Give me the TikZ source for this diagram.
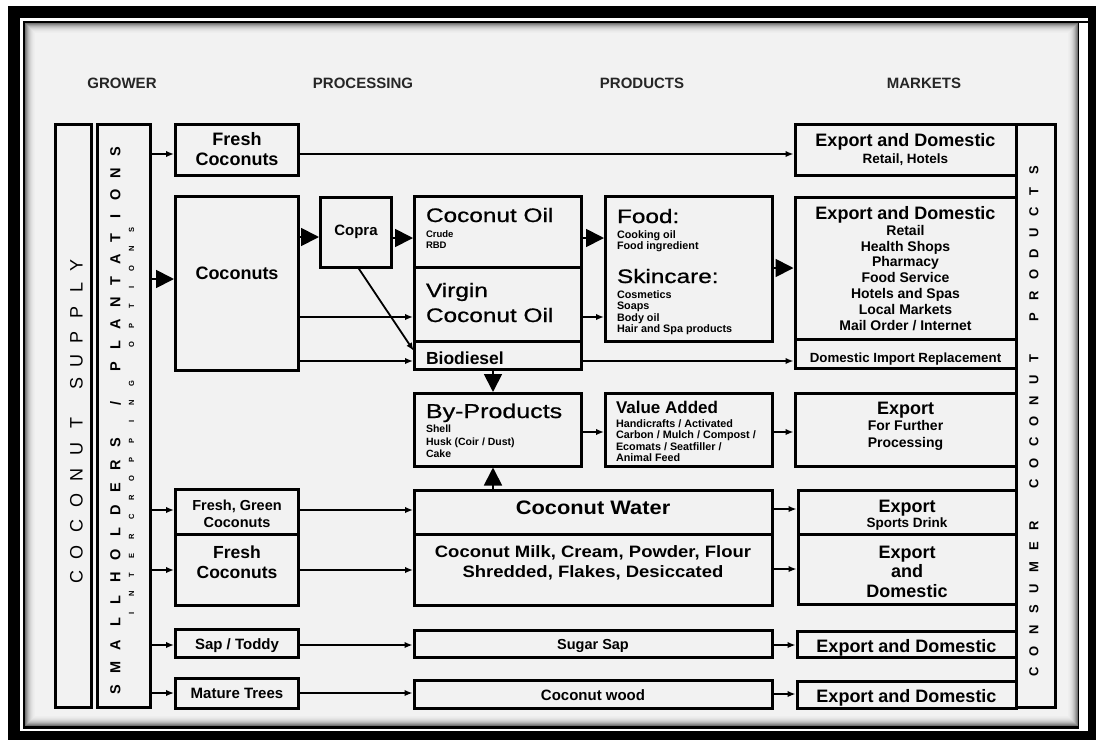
\documentclass[tikz,border=0pt]{standalone}
\usepackage{fontspec}
\setmainfont{Liberation Sans}
\newfontfamily\wideR[FakeStretch=1.25,FakeBold=0.8]{Liberation Sans}
\newfontfamily\wideB[FakeStretch=1.12]{Liberation Sans}
\usetikzlibrary{arrows.meta}
\newcommand\fsz[1]{\fontsize{#1}{#1}\selectfont}
\newcommand\bx[5]{\node[box,minimum width={#3-#1},minimum height={#4-#2}] (#5) at (#1,#2) {};}
\begin{document}
\begin{tikzpicture}[x=1pt,y=-1pt,
 box/.style={draw,line width=3pt,inner sep=0pt,outer sep=0pt,anchor=north west},
 t/.style={inner sep=0pt,outer sep=0pt},
 arr/.style={line width=1.8pt,-{Latex[length=8pt,width=6.5pt]},shorten >=1.5pt,shorten <=1.5pt},
 big/.style={line width=1.8pt,-{Triangle[length=18pt,width=18pt]},shorten >=1.5pt,shorten <=1.5pt},
 hd/.style={t,font=\fsz{15}\bfseries,anchor=base,text=black!85},
 cb/.style={t,anchor=base},
 lw/.style={t,anchor=base west},
 vA/.style={t,rotate=90,font=\fsz{18}},
 vB/.style={t,rotate=90,font=\fsz{14.5}\bfseries},
 vC/.style={t,rotate=90,font=\fsz{7.5}\bfseries},
 vD/.style={t,rotate=90,font=\fsz{13}\bfseries}]
\useasboundingbox (0,0) rectangle (1096,740);
% frame
\fill[white] (0,0) rectangle (1096,740);
\fill[black] (8,6) rectangle (1096,740);
\fill[white] (20,18) rectangle (1088,731);
\fill[black] (22.5,20.5) rectangle (1088,23);
\fill[black] (22.5,20.5) rectangle (1079,728.5);
\foreach \i/\c in {0/55,1/45,2/36,3/28,4/22,5/17,6/13,7/10,8/8,9/6.5}
  \fill[black!\c] ({25+\i},{23+\i}) rectangle ({1078-\i},{726-\i});
\fill[black!5] (35,33) rectangle (1068,716);
% headings
\node[hd] (hgrow) at (122,88.4) {GROWER};
\node[hd] (hproc) at (363,88.4) {PROCESSING};
\node[hd] (hprod) at (642,88.4) {PRODUCTS};
\node[hd] (hmark) at (924,88.4) {MARKETS};
% boxes
\bx{55}{124.5}{91.5}{707.5}{cs}
\bx{97}{124.5}{150}{707.5}{sh}
\bx{175.5}{124.5}{298.5}{175}{fc1}
\bx{175.5}{196.5}{298.5}{370}{coc}
\bx{320.5}{197}{391.5}{267.5}{copra}
\bx{414.5}{196.5}{581}{267.5}{coil}
\bx{414.5}{267.5}{581}{341.5}{vco}
\bx{414.5}{341.5}{581}{369}{bio}
\bx{414.5}{393.5}{581}{466}{byp}
\bx{605.5}{196.5}{772}{341}{food}
\bx{605.5}{393.5}{772}{466}{va}
\bx{414.5}{490}{772}{534.5}{cw}
\bx{414.5}{534.5}{772}{605}{milk}
\bx{414}{630}{772}{657}{sugar}
\bx{414}{680}{772}{708}{wood}
\bx{175.5}{489}{298.5}{534.5}{fgc}
\bx{175.5}{534.5}{298.5}{605}{fc2}
\bx{175.5}{629.5}{298.5}{657}{sap}
\bx{175.5}{678.5}{298.5}{708}{mature}
\bx{1016}{124.5}{1055}{707.5}{cp}
\bx{795}{124.5}{1016}{175}{ma}
\bx{795}{197.5}{1016}{339.5}{mb}
\bx{795}{339.5}{1016}{368}{mc}
\bx{795}{393.5}{1016}{466}{md}
\bx{798}{490}{1016}{534.5}{me}
\bx{798}{534.5}{1016}{604.5}{mf}
\bx{797}{631}{1016}{657}{mg}
\bx{797}{681}{1016}{708}{mh}
% vertical texts
\foreach \ch/\yy [count=\i] in {C/577,O/552,C/526,O/500,N/475,U/449,T/423,S/383,U/361,P/337,P/312,L/287,Y/265}
  \node[vA] (csl\i) at (76.5,\yy) {\ch};
\foreach \ch [count=\i from 0] in {S,M,A,L,L,H,O,L,D,E,R,S}
  \node[vB] (sha\i) at (115.5,{690-22.5*\i}) {\ch};
\node[vB] (shslash) at (115.5,403) {/};
\foreach \ch [count=\i from 0] in {P,L,A,N,T,A,T,I,O,N,S}
  \node[vB] (shb\i) at (115.5,{367-21.5*\i}) {\ch};
\foreach \ch [count=\i from 0] in {I,N,T,E,R,C,R,O,P,P,I,N,G}
  \node[vC] (ica\i) at (131.5,{613-19.15*\i}) {\ch};
\foreach \ch [count=\i from 14] in {O,P,T,I,O,N,S}
  \node[vC] (icb\i) at (131.5,{613-19.15*\i}) {\ch};
\foreach \ch [count=\i from 0] in {C,O,N,S,U,M,E,R}
  \node[vD] (cpa\i) at (1034,{672-20.9*\i}) {\ch};
\foreach \ch [count=\i from 9] in {C,O,C,O,N,U,T}
  \node[vD] (cpb\i) at (1034,{672-20.9*\i}) {\ch};
\foreach \ch [count=\i from 17] in {P,R,O,D,U,C,T,S}
  \node[vD] (cpc\i) at (1034,{672-20.9*\i}) {\ch};
% grower column texts
\node[cb,font=\fsz{18}\bfseries] (tfc1a) at (237,145.7) {Fresh};
\node[cb,font=\fsz{18}\bfseries] (tfc1b) at (237,165.7) {Coconuts};
\node[cb,font=\fsz{18}\bfseries] (tcoc) at (237,279) {Coconuts};
\node[cb,font=\fsz{14.5}\bfseries] (tfgca) at (237,510.5) {Fresh, Green};
\node[cb,font=\fsz{14.5}\bfseries] (tfgcb) at (237,527) {Coconuts};
\node[cb,font=\fsz{17.5}\bfseries] (tfc2a) at (237,558.5) {Fresh};
\node[cb,font=\fsz{17.5}\bfseries] (tfc2b) at (237,578) {Coconuts};
\node[cb,font=\fsz{15}\bfseries] (tsap) at (237,649) {Sap / Toddy};
\node[cb,font=\fsz{15}\bfseries] (tmat) at (237,698.5) {Mature Trees};
\node[cb,font=\fsz{15}\bfseries] (tcopra) at (356,235) {Copra};
% oil column
\node[lw,font=\wideR\fsz{19.5}] (tcoil) at (426,222) {Coconut Oil};
\node[lw,font=\fsz{9.5}\bfseries] (tcrude) at (426,237.5) {Crude};
\node[lw,font=\fsz{9.5}\bfseries] (trbd) at (426,248.5) {RBD};
\node[lw,font=\wideR\fsz{19.5}] (tvcoa) at (426,297) {Virgin};
\node[lw,font=\wideR\fsz{19.5}] (tvcob) at (426,322) {Coconut Oil};
\node[lw,font=\fsz{17.5}\bfseries] (tbio) at (426,364) {Biodiesel};
\node[lw,font=\wideR\fsz{20}] (tbyp) at (426,418) {By-Products};
\node[lw,font=\fsz{10.5}\bfseries] (tshell) at (426,432.5) {Shell};
\node[lw,font=\fsz{10.5}\bfseries] (thusk) at (426,445.5) {Husk (Coir / Dust)};
\node[lw,font=\fsz{10.5}\bfseries] (tcake) at (426,457.5) {Cake};
% products column
\node[lw,font=\wideR\fsz{19.5}] (tfood) at (617,223) {Food:};
\node[lw,font=\fsz{10.8}\bfseries] (tcook) at (617,238) {Cooking oil};
\node[lw,font=\fsz{10.8}\bfseries] (tingr) at (617,249) {Food ingredient};
\node[lw,font=\wideR\fsz{19.5}] (tskin) at (617,283) {Skincare:};
\node[lw,font=\fsz{10.8}\bfseries] (tcosm) at (617,298) {Cosmetics};
\node[lw,font=\fsz{10.8}\bfseries] (tsoap) at (617,309.5) {Soaps};
\node[lw,font=\fsz{10.8}\bfseries] (tbody) at (617,321) {Body oil};
\node[lw,font=\fsz{10.8}\bfseries] (thair) at (617,332.5) {Hair and Spa products};
\node[lw,font=\fsz{17}\bfseries] (tva) at (616,413.5) {Value Added};
\node[lw,font=\fsz{10.8}\bfseries] (tvaa) at (616,427) {Handicrafts / Activated};
\node[lw,font=\fsz{10.8}\bfseries] (tvab) at (616,438.5) {Carbon / Mulch / Compost /};
\node[lw,font=\fsz{10.8}\bfseries] (tvac) at (616,450) {Ecomats / Seatfiller /};
\node[lw,font=\fsz{10.8}\bfseries] (tvad) at (616,461.5) {Animal Feed};
% wide middle boxes
\node[cb,font=\wideB\fsz{19.5}\bfseries] (tcw) at (593,514) {Coconut Water};
\node[cb,font=\wideB\fsz{16.5}\bfseries] (tmilka) at (593,557.5) {Coconut Milk, Cream, Powder, Flour};
\node[cb,font=\wideB\fsz{16.5}\bfseries] (tmilkb) at (593,577) {Shredded, Flakes, Desiccated};
\node[cb,font=\fsz{14.5}\bfseries] (tsugar) at (593,649.5) {Sugar Sap};
\node[cb,font=\fsz{15}\bfseries] (twood) at (593,700) {Coconut wood};
% markets
\node[cb,font=\fsz{18}\bfseries] (tmaa) at (905.5,146.5) {Export and Domestic};
\node[cb,font=\fsz{13.5}\bfseries] (tmab) at (905.5,163.5) {Retail, Hotels};
\node[cb,font=\fsz{18}\bfseries] (tmba) at (905.5,219.5) {Export and Domestic};
\foreach \s/\yy [count=\i] in {Retail/235,Health Shops/251,Pharmacy/266.8,Food Service/282.6,Hotels and Spas/298.4,Local Markets/314.2}
  \node[cb,font=\fsz{14}\bfseries] (tmbl\i) at (905.5,\yy) {\s};
\node[cb,font=\fsz{14}\bfseries] (tmbl7) at (905.5,330) {Mail Order / Internet};
\node[cb,font=\fsz{13.3}\bfseries] (tmc) at (905.5,362) {Domestic Import Replacement};
\node[cb,font=\fsz{18}\bfseries] (tmda) at (905.5,414.5) {Export};
\node[cb,font=\fsz{14}\bfseries] (tmdb) at (905.5,430) {For Further};
\node[cb,font=\fsz{14}\bfseries] (tmdc) at (905.5,447) {Processing};
\node[cb,font=\fsz{18}\bfseries] (tmea) at (907,512.5) {Export};
\node[cb,font=\fsz{13.5}\bfseries] (tmeb) at (907,527.5) {Sports Drink};
\node[cb,font=\fsz{18}\bfseries] (tmfa) at (907,558.5) {Export};
\node[cb,font=\fsz{18}\bfseries] (tmfb) at (907,577.5) {and};
\node[cb,font=\fsz{18}\bfseries] (tmfc) at (907,597.5) {Domestic};
\node[cb,font=\fsz{18}\bfseries] (tmg) at (906.5,652) {Export and Domestic};
\node[cb,font=\fsz{18}\bfseries] (tmh) at (906.5,702) {Export and Domestic};
% connectors
\draw[arr] (sh.east |- 0,154) -- (fc1.west |- 0,154);
\draw[arr] (fc1.east |- 0,154) -- (ma.west |- 0,154);
\draw[big] (sh.east |- 0,279) -- (coc.west |- 0,279);
\draw[big] (coc.east |- 0,237) -- (copra.west |- 0,237);
\draw[big] (copra.east |- 0,238) -- (coil.west |- 0,238);
\draw[arr] (coc.east |- 0,317) -- (vco.west |- 0,317);
\draw[arr] (coc.east |- 0,361) -- (bio.west |- 0,361);
\draw[arr] (copra.south -| 358,0) -- (bio.west |- 0,352);
\draw[big] (coil.east |- 0,238) -- (food.west |- 0,238);
\draw[arr] (vco.east |- 0,317) -- (food.west |- 0,317);
\draw[big] (food.east |- 0,268) -- (mb.west |- 0,268);
\draw[arr] (bio.east |- 0,361) -- (mc.west |- 0,361);
\draw[big] (493,0 |- bio.south) -- (493,0 |- byp.north);
\draw[big] (493,0 |- cw.north) -- (493,0 |- byp.south);
\draw[arr] (byp.east |- 0,432) -- (va.west |- 0,432);
\draw[arr] (va.east |- 0,432) -- (md.west |- 0,432);
\draw[arr] (sh.east |- 0,510) -- (fgc.west |- 0,510);
\draw[arr] (fgc.east |- 0,510) -- (cw.west |- 0,510);
\draw[arr] (cw.east |- 0,509) -- (me.west |- 0,509);
\draw[arr] (sh.east |- 0,570) -- (fc2.west |- 0,570);
\draw[arr] (fc2.east |- 0,570) -- (milk.west |- 0,570);
\draw[arr] (milk.east |- 0,569) -- (mf.west |- 0,569);
\draw[arr] (sh.east |- 0,645) -- (sap.west |- 0,645);
\draw[arr] (sap.east |- 0,645) -- (sugar.west |- 0,645);
\draw[arr] (sugar.east |- 0,645) -- (mg.west |- 0,645);
\draw[arr] (sh.east |- 0,693) -- (mature.west |- 0,693);
\draw[arr] (mature.east |- 0,693) -- (wood.west |- 0,693);
\draw[arr] (wood.east |- 0,694) -- (mh.west |- 0,694);
\end{tikzpicture}
\end{document}
